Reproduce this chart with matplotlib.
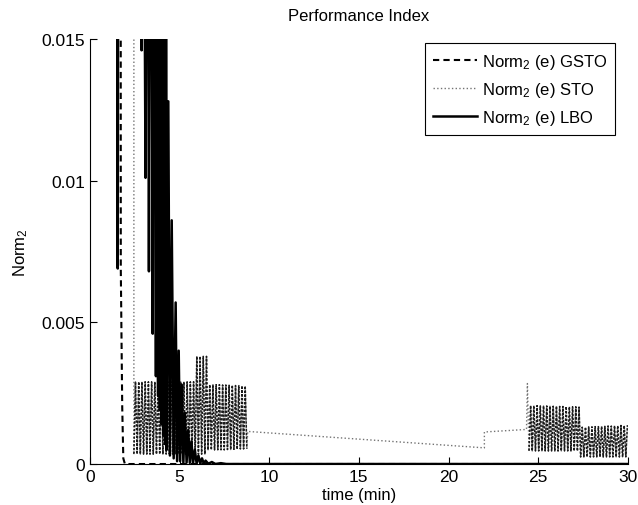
import matplotlib
matplotlib.use("Agg")
import matplotlib.pyplot as plt

plt.rcParams['font.family'] = ['Liberation Sans', 'DejaVu Sans']
plt.rcParams['mathtext.default'] = 'regular'

# GSTO: drops to zero right after start
gsto_t = [0.0, 1.71, 1.72, 1.80, 1.86, 1.95, 30.0]
gsto_y = [0.03, 0.03, 0.0069, 0.002, 0.0002, 0.0, 0.0]

# STO: first chattering block (2.45 - 8.75 min)
sto_block1_t = [2.45, 2.54, 2.63, 2.72, 2.81, 2.90, 2.99, 3.08, 3.17, 3.26,
                3.35, 3.44, 3.53, 3.62, 3.71, 3.80, 3.89, 3.98, 4.07, 4.16,
                4.25, 4.34, 4.43, 4.52, 4.61, 4.70, 4.79, 4.88, 4.97, 5.06,
                5.15, 5.24, 5.33, 5.42, 5.51, 5.60, 5.69, 5.78, 5.87, 5.96,
                6.05, 6.14, 6.23, 6.32, 6.41, 6.50, 6.59, 6.68, 6.77, 6.86,
                6.95, 7.04, 7.13, 7.22, 7.31, 7.40, 7.49, 7.58, 7.67, 7.76,
                7.85, 7.94, 8.03, 8.12, 8.21, 8.30, 8.39, 8.48, 8.57, 8.66,
                8.75]
sto_block1_y = [0.00035, 0.0029, 0.00035, 0.0029, 0.00035, 0.0029, 0.00035, 0.0029,
                0.00035, 0.0029, 0.00035, 0.0029, 0.00035, 0.0029, 0.00035, 0.0029,
                0.00035, 0.0029, 0.00035, 0.0029, 0.00035, 0.0029, 0.00035, 0.0029,
                0.00035, 0.0029, 0.00035, 0.0029, 0.00035, 0.0029, 0.00035, 0.0029,
                0.00035, 0.0029, 0.00035, 0.0029, 0.00035, 0.0029,
                0.00035, 0.0038, 0.00035, 0.0038, 0.00035, 0.0038, 0.00035, 0.0038,
                0.0005, 0.0028, 0.0005, 0.0028, 0.0005, 0.0028, 0.0005, 0.0028,
                0.0005, 0.00279, 0.0005, 0.00279, 0.00051, 0.00278, 0.00051, 0.00278,
                0.00052, 0.00277, 0.00052, 0.00277, 0.00053, 0.00276, 0.00053, 0.00275,
                0.00054]

# STO: slow drift between the blocks
sto_mid_t = [8.80, 22.0, 22.0, 24.35, 24.40]
sto_mid_y = [0.00115, 0.00057, 0.00113, 0.00122, 0.00284]

# STO: second chattering block (24.5 - 30 min)
sto_block2_t = [24.49, 24.58, 24.67, 24.76, 24.85, 24.94, 25.03, 25.12, 25.21, 25.30,
                25.39, 25.48, 25.57, 25.66, 25.75, 25.84, 25.93, 26.02, 26.11, 26.20,
                26.29, 26.38, 26.47, 26.56, 26.65, 26.74, 26.83, 26.92, 27.01, 27.10,
                27.19, 27.28, 27.37, 27.46, 27.55, 27.64, 27.73, 27.82, 27.91, 28.00,
                28.09, 28.18, 28.27, 28.36, 28.45, 28.54, 28.63, 28.72, 28.81, 28.90,
                28.99, 29.08, 29.17, 29.26, 29.35, 29.44, 29.53, 29.62, 29.71, 29.80,
                29.89, 29.98]
sto_block2_y = [0.00046, 0.00206, 0.00046, 0.00206, 0.00046, 0.00206, 0.00046, 0.00205,
                0.00046, 0.00205, 0.00046, 0.00205, 0.00046, 0.00204, 0.00046, 0.00204,
                0.00046, 0.00204, 0.00046, 0.00203, 0.00046, 0.00203, 0.00046, 0.00203,
                0.00046, 0.00202, 0.00046, 0.00202, 0.00046, 0.00202, 0.00046, 0.00201,
                0.00025, 0.0013, 0.00025, 0.0013, 0.00025, 0.00131, 0.00025, 0.00131,
                0.00025, 0.00132, 0.00025, 0.00132, 0.00025, 0.00133, 0.00025, 0.00133,
                0.00025, 0.00134, 0.00025, 0.00134, 0.00025, 0.00135, 0.00025, 0.00135,
                0.00025, 0.00136, 0.00025, 0.00136, 0.00025, 0.00137]

sto_t = [0.0, 2.45] + sto_block1_t + sto_mid_t + sto_block2_t
sto_y = [0.03, 0.03] + sto_block1_y + sto_mid_y + sto_block2_y

# LBO: large decaying oscillation
lbo_t = [0.0, 1.50, 1.55, 1.60, 2.84, 2.88, 2.95,
         3.10, 3.20, 3.29, 3.40, 3.50, 3.59, 3.68, 3.74, 3.80, 3.85, 3.90, 3.95,
         4.00, 4.05, 4.10, 4.15, 4.20, 4.24, 4.28, 4.37, 4.46, 4.56, 4.67, 4.78,
         4.86, 4.95, 5.03, 5.12, 5.21, 5.30, 5.39, 5.48, 5.57, 5.66, 5.75, 5.85,
         5.95, 6.05, 6.15, 6.25, 6.35, 6.45, 6.60, 6.80, 7.00, 7.30, 7.60, 30.0]
lbo_y = [0.03, 0.03, 0.0069, 0.03, 0.03, 0.0146, 0.03,
         0.0101, 0.03, 0.0068, 0.03, 0.0046, 0.03, 0.0031, 0.03, 0.0024, 0.03,
         0.0019, 0.03, 0.0014, 0.03, 0.0010, 0.03, 0.0007, 0.03, 0.0005, 0.0128,
         0.0003, 0.0086, 0.0002, 0.0057, 0.0001, 0.0040, 0.0001, 0.0028, 0.00005,
         0.0018, 0.00005, 0.0012, 0.00004, 0.0008, 0.00003, 0.0005, 0.00002,
         0.0003, 0.00002, 0.0002, 0.00001, 0.00012, 0.00001, 0.00007, 0.0,
         0.00003, 0.0, 0.0]

xticks = [0, 5, 10, 15, 20, 25, 30]
yticks = [0, 0.005, 0.01, 0.015]
ytick_labels = ['0', '0.005', '0.01', '0.015']

fig = plt.figure(figsize=(6.38, 5.06), dpi=100)
ax = fig.add_axes([0.141, 0.081, 0.843, 0.840])

ax.plot(gsto_t, gsto_y, color='black', linestyle='--', dashes=(3, 2), lw=1.5,
        label='Norm$_2$ (e) GSTO')
ax.plot(sto_t, sto_y, color='0.45', linestyle=':', lw=1.0,
        label='Norm$_2$ (e) STO')
# chattering parts render darker where the strokes pile up
ax.plot(sto_block1_t, sto_block1_y, color='0.1', linestyle=(0, (1.5, 1)), lw=1.1)
ax.plot(sto_block2_t, sto_block2_y, color='0.1', linestyle=(0, (1.5, 1)), lw=1.1)
ax.plot(lbo_t, lbo_y, color='black', linestyle='-', lw=1.8,
        label='Norm$_2$ (e) LBO')

ax.set_xlim(0, 30)
ax.set_ylim(0, 0.015)
ax.set_xticks(xticks)
ax.set_yticks(yticks)
ax.set_yticklabels(ytick_labels)
ax.tick_params(direction='in', length=5, labelsize=12.5, width=0.8)
ax.spines['top'].set_visible(False)
ax.spines['right'].set_visible(False)

ax.set_title('Performance Index', fontsize=12, pad=14)
ax.set_xlabel('time (min)', fontsize=12, labelpad=2)
ax.set_ylabel('Norm$_2$', fontsize=12, labelpad=8)

leg = ax.legend(loc='upper right', bbox_to_anchor=(0.977, 0.99), borderaxespad=0,
                fontsize=12, fancybox=False, framealpha=1, edgecolor='black',
                handlelength=2.6, handletextpad=0.3, labelspacing=0.55,
                borderpad=0.5)
leg.get_frame().set_linewidth(0.8)

fig.savefig('out.png', dpi=100)
